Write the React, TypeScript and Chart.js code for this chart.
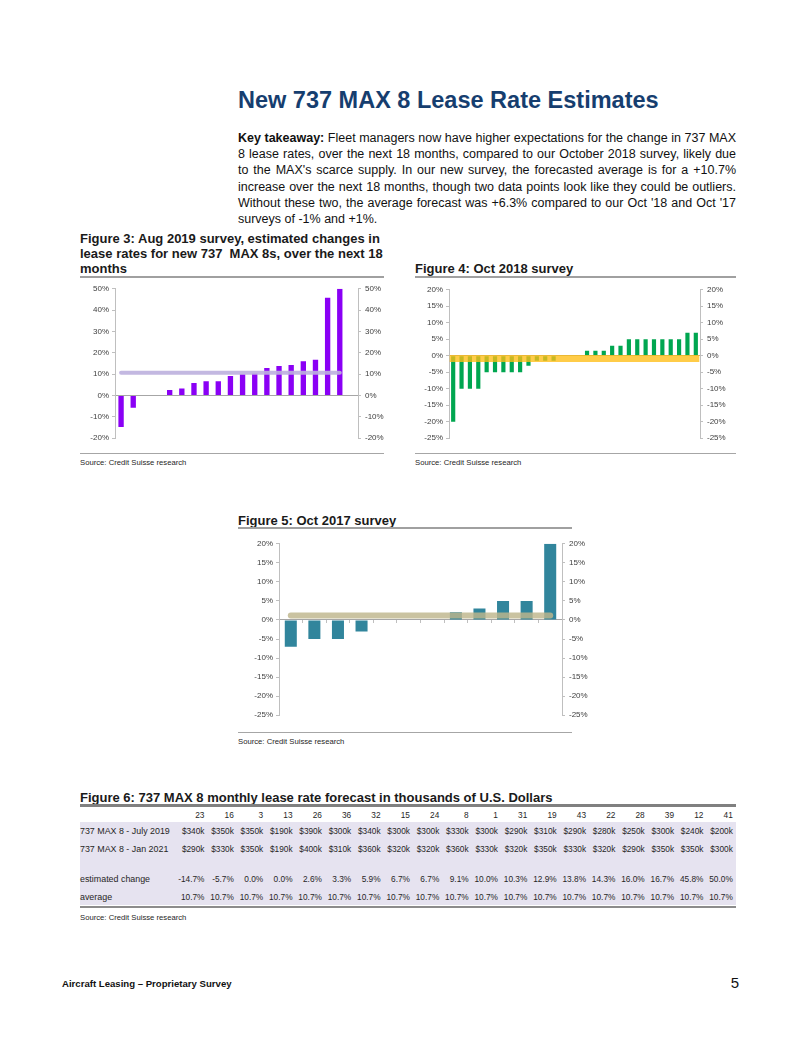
import React, { useEffect, useRef } from "react";
import { Chart, registerables } from "chart.js";

Chart.register(...registerables);

// ---------- Data ----------
// Figure 6 table / Figure 3 chart (Aug 2019 survey)
const respondentIds = ["23", "16", "3", "13", "26", "36", "32", "15", "24", "8", "1", "31", "19", "43", "22", "28", "39", "12", "41"];
const july2019Rates = [340, 350, 350, 190, 390, 300, 340, 300, 300, 330, 300, 290, 310, 290, 280, 250, 300, 240, 200];
const jan2021Rates = [290, 330, 350, 190, 400, 310, 360, 320, 320, 360, 330, 320, 350, 330, 320, 290, 350, 350, 300];
const estimatedChange = [-14.7, -5.7, 0.0, 0.0, 2.6, 3.3, 5.9, 6.7, 6.7, 9.1, 10.0, 10.3, 12.9, 13.8, 14.3, 16.0, 16.7, 45.8, 50.0];
const averageChange = [10.7, 10.7, 10.7, 10.7, 10.7, 10.7, 10.7, 10.7, 10.7, 10.7, 10.7, 10.7, 10.7, 10.7, 10.7, 10.7, 10.7, 10.7, 10.7];

// Figure 4 (Oct 2018 survey)
const oct2018Labels = ["1", "2", "3", "4", "5", "6", "7", "8", "9", "10", "11", "12", "13", "14", "15", "16", "17", "18", "19", "20", "21", "22", "23", "24", "25", "26", "27", "28", "29", "30"];
const oct2018Values = [-20, -10, -10, -10, -5, -5, -5, -5, -5, -3, -1.5, -1.5, -1.5, 0, 0, 0, 1.5, 1.5, 1.5, 3, 3, 5, 5, 5, 5, 5, 5, 5, 7, 7];
const oct2018Average = [-0.8, -0.8, -0.8, -0.8, -0.8, -0.8, -0.8, -0.8, -0.8, -0.8, -0.8, -0.8, -0.8, -0.8, -0.8, -0.8, -0.8, -0.8, -0.8, -0.8, -0.8, -0.8, -0.8, -0.8, -0.8, -0.8, -0.8, -0.8, -0.8, -0.8];

// Figure 5 (Oct 2017 survey)
const oct2017Labels = ["1", "2", "3", "4", "5", "6", "7", "8", "9", "10", "11", "12"];
const oct2017Values = [-7, -5, -5, -3, 0, 0, 0, 2, 3, 5, 5, 20];
const oct2017Average = [1.2, 1.2, 1.2, 1.2, 1.2, 1.2, 1.2, 1.2, 1.2, 1.2, 1.2, 1.2];

const FONT = "'Liberation Sans', Arial, Helvetica, sans-serif";
const NARROW = "'Liberation Sans Narrow', 'Arial Narrow', 'Liberation Sans', Arial, sans-serif";

type Area = { l: number; t: number; r: number; b: number };
type PanelProps = {
  labels: string[];
  values: (number | null)[];
  avg: (number | null)[];
  barColor: string;
  lineColor: string;
  lineWidth: number;
  cap: "round" | "square" | "butt";
  min: number;
  max: number;
  step: number;
  area: Area;
  lw: number;
  rw: number;
  barPct: number;
  xTicks: boolean;
};

function BarPanel(p: PanelProps) {
  const ref = useRef<HTMLCanvasElement>(null);
  const pad = 8;
  const width = p.area.r - p.area.l + p.lw + p.rw;
  const height = p.area.b - p.area.t + 2 * pad;
  useEffect(() => {
    if (!ref.current) return;
    const axisColor = "#bfbfbf";
    const tickFont = { family: FONT, size: 8 };
    const yAxis = (position: "left" | "right") => ({
      type: "linear" as const,
      position,
      min: p.min,
      max: p.max,
      ticks: {
        stepSize: p.step,
        callback: (v: any) => v + "%",
        font: tickFont,
        color: "#404040",
        padding: position === "left" ? 3 : 4,
      },
      grid: { drawOnChartArea: false, drawTicks: true, tickLength: 3, color: axisColor },
      border: { display: true, color: axisColor },
      afterFit: (s: any) => {
        s.width = position === "left" ? p.lw : p.rw;
      },
    });
    const chart = new Chart(ref.current, {
      type: "bar",
      data: {
        labels: p.labels,
        datasets: [
          {
            type: "line",
            data: p.avg,
            borderColor: p.lineColor,
            borderWidth: p.lineWidth,
            borderCapStyle: p.cap,
            pointRadius: 0,
            order: 0,
            yAxisID: "y",
            fill: false,
          } as any,
          {
            type: "bar",
            data: p.values,
            backgroundColor: p.barColor,
            barPercentage: p.barPct,
            categoryPercentage: 1,
            order: 1,
            yAxisID: "y",
          } as any,
        ],
      },
      options: {
        animation: false,
        responsive: false,
        maintainAspectRatio: false,
        layout: { padding: { top: pad, bottom: pad, left: 0, right: 0 } },
        plugins: { legend: { display: false }, tooltip: { enabled: false } },
        scales: {
          x: {
            type: "category",
            position: { y: 0 } as any,
            offset: true,
            ticks: { display: false },
            grid: {
              display: p.xTicks,
              drawOnChartArea: false,
              drawTicks: true,
              tickLength: 3,
              color: axisColor,
              offset: true,
            },
            border: { display: true, color: "#a6a6a6" },
          },
          y: yAxis("left"),
          y2: yAxis("right"),
        } as any,
      },
    });
    return () => chart.destroy();
  }, []);
  return (
    <canvas
      ref={ref}
      width={width}
      height={height}
      style={{ position: "absolute", left: p.area.l - p.lw, top: p.area.t - pad, width, height }}
    />
  );
}

function T(props: {
  x: number;
  y: number;
  size: number;
  lh?: number;
  bold?: boolean;
  color?: string;
  family?: string;
  w?: number;
  pre?: boolean;
  align?: "left" | "right" | "center" | "justify";
  children: React.ReactNode;
}) {
  const lh = props.lh ?? Math.round(props.size * 1.25);
  return (
    <div
      style={{
        position: "absolute",
        left: props.x,
        top: props.y - lh / 2,
        width: props.w,
        fontFamily: props.family ?? FONT,
        fontSize: props.size,
        lineHeight: lh + "px",
        fontWeight: props.bold ? "bold" : "normal",
        color: props.color ?? "#1a1a1a",
        whiteSpace: props.pre ? "pre" : props.align === "justify" ? "normal" : "nowrap",
        textAlign: props.align ?? "left",
        textAlignLast: (props.align === "justify" ? "justify" : "auto") as any,
      }}
    >
      {props.children}
    </div>
  );
}

function Rule(props: { x1: number; x2: number; y: number; h: number; color: string }) {
  return (
    <div
      style={{
        position: "absolute",
        left: props.x1,
        top: props.y - props.h / 2,
        width: props.x2 - props.x1,
        height: props.h,
        background: props.color,
      }}
    />
  );
}

function Table() {
  const colRight0 = 204.5;
  const colW = 29.35;
  const rows: { label: string; cells: string[]; y: number }[] = [
    { label: "", cells: respondentIds, y: 815 },
    { label: "737 MAX 8 - July 2019", cells: july2019Rates.map((v) => "$" + v + "k"), y: 831 },
    { label: "737 MAX 8 - Jan 2021", cells: jan2021Rates.map((v) => "$" + v + "k"), y: 849 },
    { label: "estimated change", cells: estimatedChange.map((v) => v.toFixed(1) + "%"), y: 879 },
    { label: "average", cells: averageChange.map((v) => v.toFixed(1) + "%"), y: 897 },
  ];
  return (
    <>
      <div style={{ position: "absolute", left: 80, top: 822, width: 656, height: 83, background: "#e6e3f0" }} />
      {rows.map((r, ri) => (
        <React.Fragment key={ri}>
          <T x={80} y={r.y} size={8.9} lh={12} color="#262626">
            {r.label}
          </T>
          {r.cells.map((c, ci) => (
            <div
              key={ci}
              style={{
                position: "absolute",
                left: colRight0 + ci * colW - colW,
                top: r.y - 6,
                width: colW,
                textAlign: "right",
                fontFamily: FONT,
                fontSize: 8.3,
                lineHeight: "12px",
                color: "#262626",
                whiteSpace: "nowrap",
              }}
            >
              {c}
            </div>
          ))}
        </React.Fragment>
      ))}
    </>
  );
}

export default function App() {
  const para = [
    <>
      <b>Key takeaway:</b> Fleet managers now have higher expectations for the change in 737 MAX
    </>,
    <>8 lease rates, over the next 18 months, compared to our October 2018 survey, likely due</>,
    <>to the MAX's scarce supply. In our new survey, the forecasted average is for a +10.7%</>,
    <>increase over the next 18 months, though two data points look like they could be outliers.</>,
    <>Without these two, the average forecast was +6.3% compared to our Oct '18 and Oct '17</>,
    <>surveys of -1% and +1%.</>,
  ];
  const paraY = [137.5, 154, 170.3, 186.6, 202.9, 219.2];
  const src = "Source: Credit Suisse research";
  return (
    <div style={{ position: "absolute", left: 0, top: 0, width: 802, height: 1037, background: "#ffffff", overflow: "hidden" }}>
      <T x={238} y={100} size={23.5} lh={28} bold color="#163e6f">
        New 737 MAX 8 Lease Rate Estimates
      </T>
      {para.map((line, i) => (
        <T key={i} x={238} y={paraY[i]} size={12.5} lh={16} w={498} align={i < 5 ? "justify" : "left"} color="#111">
          {line}
        </T>
      ))}

      {/* Figure 3 */}
      <T x={80} y={238} size={13} lh={15} bold>
        Figure 3: Aug 2019 survey, estimated changes in
      </T>
      <T x={80} y={253.5} size={13} lh={15} bold pre>
        {"lease rates for new 737  MAX 8s, over the next 18"}
      </T>
      <T x={80} y={268.5} size={13} lh={15} bold>
        months
      </T>
      <Rule x1={80} x2={384} y={276.5} h={2} color="#a0a0a0" />
      <BarPanel
        labels={[...respondentIds, ""]}
        values={[...estimatedChange, null]}
        avg={[...averageChange, null]}
        barColor="#8a00f5"
        lineColor="rgba(188,176,222,0.9)"
        lineWidth={4}
        cap="round"
        min={-20}
        max={50}
        step={10}
        area={{ l: 115, t: 288, r: 358, b: 439 }}
        lw={35}
        rw={26}
        barPct={0.44}
        xTicks={false}
      />
      <Rule x1={80} x2={384} y={453.5} h={1} color="#a6a6a6" />
      <T x={80} y={463} size={7.7} lh={10} color="#262626">
        {src}
      </T>

      {/* Figure 4 */}
      <T x={415} y={268.5} size={13} lh={15} bold>
        Figure 4: Oct 2018 survey
      </T>
      <Rule x1={415} x2={736} y={276.5} h={2} color="#a0a0a0" />
      <BarPanel
        labels={oct2018Labels}
        values={oct2018Values}
        avg={oct2018Average}
        barColor="#00a650"
        lineColor="rgba(255,190,20,0.78)"
        lineWidth={7}
        cap="square"
        min={-25}
        max={20}
        step={5}
        area={{ l: 449, t: 289, r: 700, b: 439 }}
        lw={35}
        rw={30}
        barPct={0.5}
        xTicks={false}
      />
      <Rule x1={415} x2={736} y={453.5} h={1} color="#a6a6a6" />
      <T x={415} y={463} size={7.7} lh={10} color="#262626">
        {src}
      </T>

      {/* Figure 5 */}
      <T x={238} y={520} size={13} lh={15} bold>
        Figure 5: Oct 2017 survey
      </T>
      <Rule x1={238} x2={572} y={528} h={2} color="#a0a0a0" />
      <BarPanel
        labels={oct2017Labels}
        values={oct2017Values}
        avg={oct2017Average}
        barColor="#31859c"
        lineColor="rgba(190,182,140,0.82)"
        lineWidth={6}
        cap="round"
        min={-25}
        max={20}
        step={5}
        area={{ l: 279, t: 543, r: 562, b: 716 }}
        lw={35}
        rw={30}
        barPct={0.51}
        xTicks={true}
      />
      <Rule x1={238} x2={572} y={732.5} h={1} color="#a6a6a6" />
      <T x={238} y={741.5} size={7.7} lh={10} color="#262626">
        {src}
      </T>

      {/* Figure 6 */}
      <T x={80} y={797} size={13} lh={15} bold>
        Figure 6: 737 MAX 8 monthly lease rate forecast in thousands of U.S. Dollars
      </T>
      <Rule x1={80} x2={736} y={805.5} h={3} color="#808080" />
      <Table />
      <Rule x1={80} x2={736} y={906.5} h={2} color="#8c8c8c" />
      <T x={80} y={918} size={7.7} lh={10} color="#262626">
        {src}
      </T>

      {/* Footer */}
      <T x={62} y={984} size={9.6} lh={12} bold family={NARROW} color="#111">
        Aircraft Leasing – Proprietary Survey
      </T>
      <div
        style={{
          position: "absolute",
          left: 700,
          top: 974,
          width: 39,
          textAlign: "right",
          fontFamily: NARROW,
          fontSize: 15,
          lineHeight: "18px",
          color: "#111",
        }}
      >
        5
      </div>
    </div>
  );
}
